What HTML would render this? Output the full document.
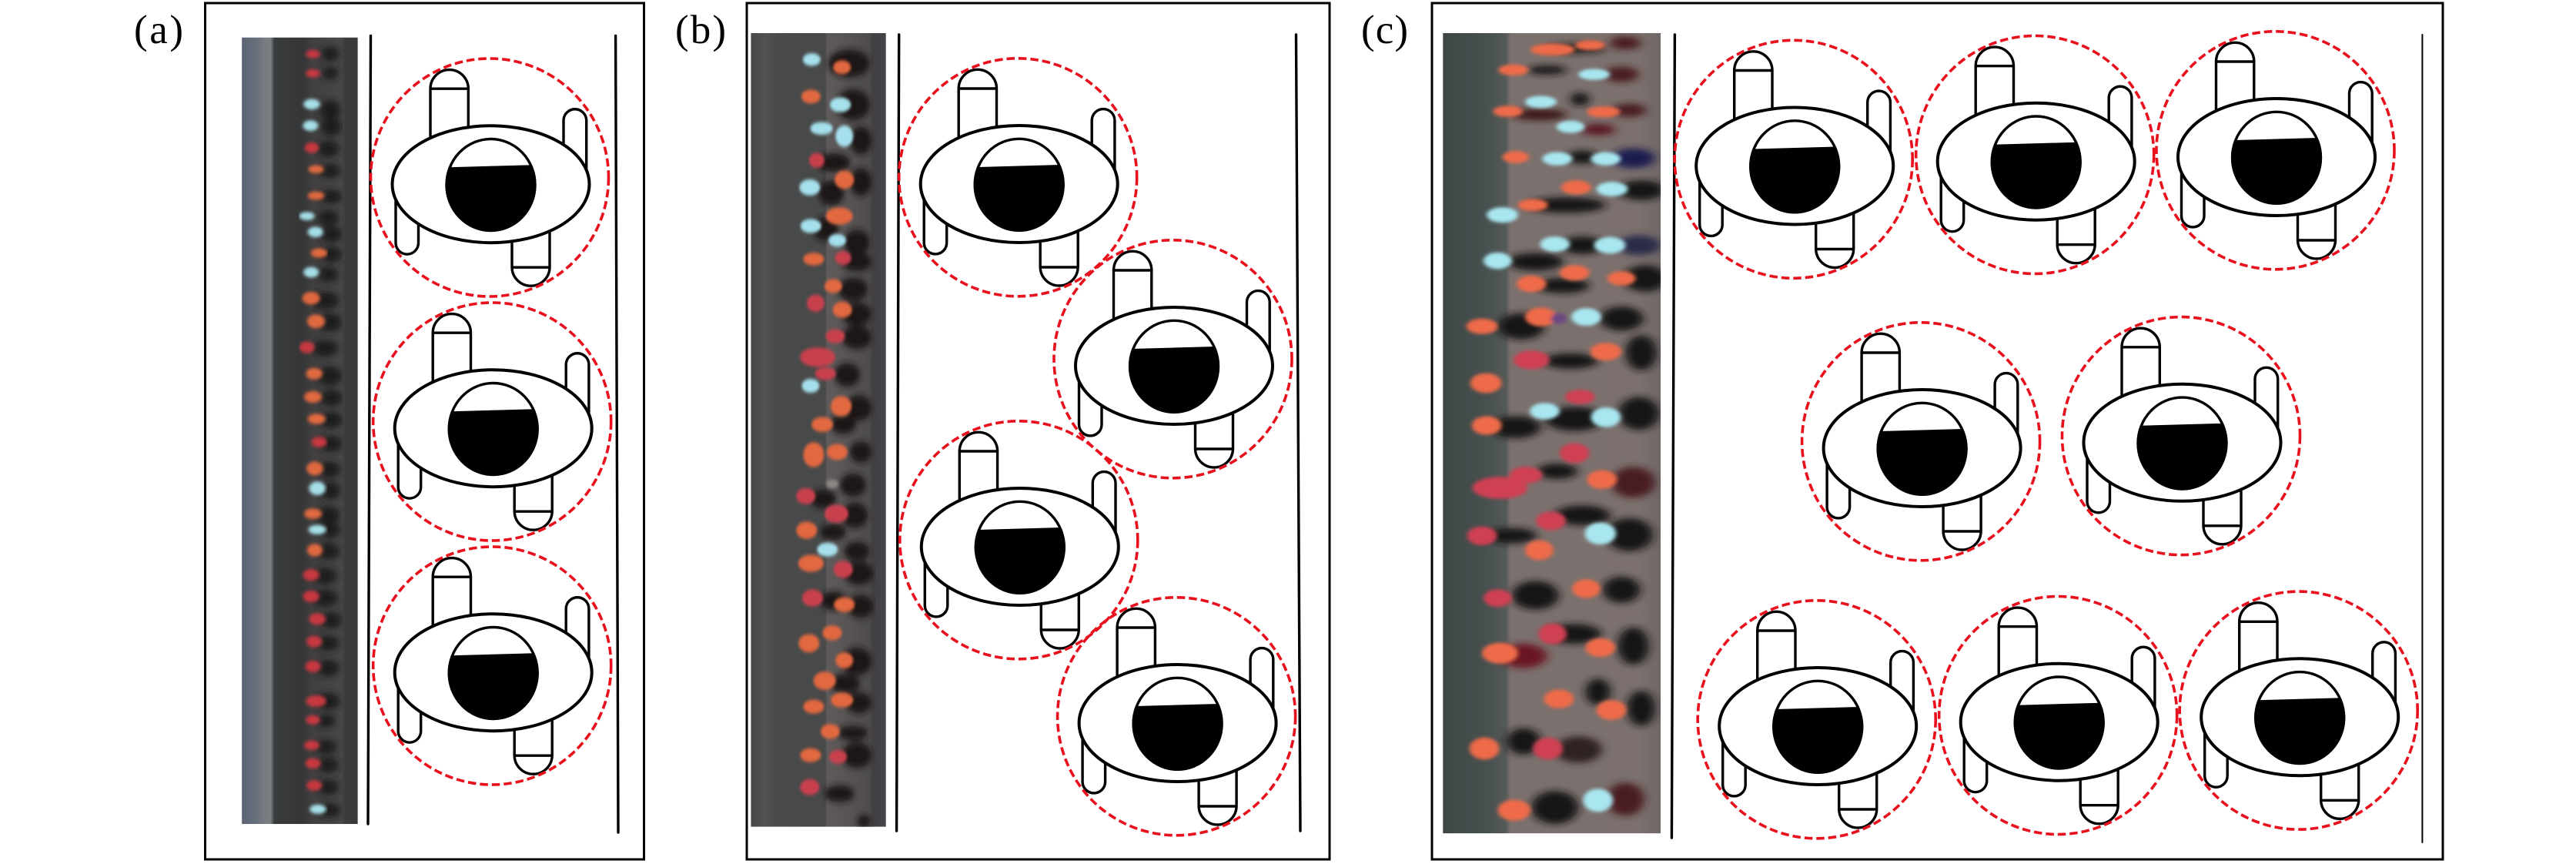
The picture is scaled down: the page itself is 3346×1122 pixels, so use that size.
<!DOCTYPE html>
<html><head><meta charset="utf-8"><style>
html,body{margin:0;padding:0;background:#fff}
svg{display:block}
</style></head><body>
<svg xmlns="http://www.w3.org/2000/svg" width="3346" height="1122" viewBox="0 0 3346 1122">
<defs>
<linearGradient id="ga" x1="0" x2="1" y1="0" y2="0">
<stop offset="0" stop-color="#5c6474"/><stop offset=".12" stop-color="#666d7b"/><stop offset=".19" stop-color="#767b80"/><stop offset=".25" stop-color="#7a7e82"/><stop offset=".28" stop-color="#393c3d"/><stop offset=".52" stop-color="#353637"/><stop offset=".6" stop-color="#403e3f"/><stop offset=".86" stop-color="#4a4748"/><stop offset=".89" stop-color="#3c3a3b"/><stop offset="1" stop-color="#3a383a"/>
</linearGradient>
<linearGradient id="gb" x1="0" x2="1" y1="0" y2="0">
<stop offset="0" stop-color="#48484b"/><stop offset=".1" stop-color="#505152"/><stop offset=".2" stop-color="#494b4c"/><stop offset=".55" stop-color="#484949"/><stop offset=".565" stop-color="#5f5b5b"/><stop offset=".88" stop-color="#4e4b4c"/><stop offset=".9" stop-color="#424044"/><stop offset="1" stop-color="#454347"/>
</linearGradient>
<linearGradient id="gc" x1="0" x2="1" y1="0" y2="0">
<stop offset="0" stop-color="#3f4746"/><stop offset=".2" stop-color="#46504f"/><stop offset=".29" stop-color="#555a58"/><stop offset=".31" stop-color="#7a706d"/><stop offset=".9" stop-color="#7b706d"/><stop offset="1" stop-color="#6f6766"/>
</linearGradient>
<filter id="b1" x="-5%" y="-5%" width="110%" height="110%"><feGaussianBlur stdDeviation="3"/></filter>
<filter id="b2" x="-5%" y="-5%" width="110%" height="110%"><feGaussianBlur stdDeviation="6"/></filter>
<clipPath id="ca"><rect x="394" y="68" width="189" height="1427"/></clipPath>
<clipPath id="cb"><rect x="30" y="60" width="344" height="1440"/></clipPath>
<clipPath id="cc"><rect x="122" y="60" width="278" height="1452"/></clipPath>
<g id="t">
<g fill="#fff" stroke="#000" stroke-width="3.4">
<path d="M-78.5,0V-124A24.6,24.6 0 0 1 -29.2,-124V0Z"/><path d="M-78.5,-124H-29.2"/>
<path d="M94.5,0V-82.6A14.85,14.85 0 0 1 124.2,-82.6V0Z"/>
<path d="M-123.5,0V76.2A14.75,14.75 0 0 0 -94,76.2V0Z"/>
<path d="M27.5,0V107.5A24.5,24.5 0 0 0 76.5,107.5V0Z"/><path d="M27.5,108H76.5"/>
</g>
<ellipse cx="0" cy="0" rx="128" ry="76" fill="#fff" stroke="#000" stroke-width="4"/>
<ellipse cx="0" cy="0.8" rx="57.5" ry="59.5" fill="#fff" stroke="#000" stroke-width="3.4"/>
<path d="M-54.7,-22L53.5,-25A59,61 0 1 1 -54.7,-22Z" fill="#000"/>
<circle cx="-1.5" cy="-8.7" r="154.5" fill="none" stroke="#e8101c" stroke-width="3.6" stroke-dasharray="10.5 5"/>
</g>
</defs>

<!-- panel borders -->
<g fill="none" stroke="#000" stroke-width="3">
<rect x="266.5" y="4" width="570" height="1112"/>
<rect x="970" y="4" width="757" height="1112"/>
<rect x="1860" y="4" width="1313" height="1112"/>
</g>

<!-- photo a -->
<g transform="scale(.79719,.7158)" clip-path="url(#ca)">
<rect x="394" y="68" width="189" height="1427" fill="url(#ga)"/>
<g filter="url(#b2)" fill="#1f1b1d" stroke="#1f1b1d" stroke-width="6">
<ellipse cx="538" cy="98" rx="12" ry="10"/><ellipse cx="538" cy="133" rx="10" ry="9"/><ellipse cx="538" cy="200" rx="14" ry="16"/><ellipse cx="540" cy="230" rx="14" ry="14"/><ellipse cx="535" cy="270" rx="15" ry="12"/><ellipse cx="538" cy="310" rx="14" ry="10"/><ellipse cx="540" cy="357" rx="15" ry="10"/><ellipse cx="535" cy="395" rx="14" ry="11"/><ellipse cx="540" cy="425" rx="15" ry="12"/><ellipse cx="540" cy="462" rx="15" ry="11"/><ellipse cx="535" cy="498" rx="13" ry="11"/><ellipse cx="530" cy="545" rx="20" ry="13"/><ellipse cx="538" cy="585" rx="16" ry="14"/><ellipse cx="530" cy="632" rx="18" ry="12"/><ellipse cx="537" cy="682" rx="18" ry="14"/><ellipse cx="540" cy="722" rx="16" ry="12"/><ellipse cx="540" cy="762" rx="16" ry="12"/><ellipse cx="540" cy="805" rx="15" ry="12"/><ellipse cx="537" cy="852" rx="15" ry="12"/><ellipse cx="538" cy="890" rx="14" ry="13"/><ellipse cx="535" cy="935" rx="16" ry="14"/><ellipse cx="538" cy="962" rx="14" ry="11"/><ellipse cx="535" cy="1000" rx="16" ry="12"/><ellipse cx="530" cy="1045" rx="16" ry="12"/><ellipse cx="530" cy="1085" rx="18" ry="12"/><ellipse cx="540" cy="1125" rx="14" ry="12"/><ellipse cx="535" cy="1167" rx="15" ry="11"/><ellipse cx="535" cy="1212" rx="15" ry="12"/><ellipse cx="535" cy="1272" rx="16" ry="12"/><ellipse cx="532" cy="1308" rx="12" ry="9"/><ellipse cx="532" cy="1355" rx="14" ry="10"/><ellipse cx="535" cy="1388" rx="14" ry="11"/><ellipse cx="535" cy="1428" rx="14" ry="11"/><ellipse cx="538" cy="1470" rx="14" ry="10"/>
</g>
<g filter="url(#b1)" stroke-width="3">
<g fill="#c7383f" stroke="#c7383f"><ellipse cx="510" cy="98" rx="10" ry="6"/><ellipse cx="510" cy="133" rx="10" ry="6"/><ellipse cx="508" cy="268" rx="10" ry="8"/><ellipse cx="500" cy="630" rx="11" ry="9"/><ellipse cx="520" cy="802" rx="11" ry="8"/><ellipse cx="507" cy="1043" rx="12" ry="9"/><ellipse cx="507" cy="1082" rx="12" ry="9"/><ellipse cx="517" cy="1123" rx="12" ry="9"/><ellipse cx="512" cy="1164" rx="11" ry="9"/><ellipse cx="510" cy="1209" rx="11" ry="9"/><ellipse cx="515" cy="1272" rx="15" ry="9"/><ellipse cx="510" cy="1306" rx="10" ry="7"/><ellipse cx="508" cy="1352" rx="11" ry="7"/><ellipse cx="510" cy="1385" rx="11" ry="8"/><ellipse cx="512" cy="1425" rx="11" ry="8"/></g>
<g fill="#e0693f" stroke="#e0693f"><ellipse cx="515" cy="307" rx="11" ry="6"/><ellipse cx="515" cy="355" rx="12" ry="6"/><ellipse cx="520" cy="459" rx="12" ry="7"/><ellipse cx="507" cy="541" rx="13" ry="10"/><ellipse cx="515" cy="583" rx="13" ry="11"/><ellipse cx="512" cy="678" rx="12" ry="9"/><ellipse cx="510" cy="720" rx="13" ry="9"/><ellipse cx="516" cy="760" rx="13" ry="8"/><ellipse cx="513" cy="850" rx="12" ry="11"/><ellipse cx="510" cy="932" rx="13" ry="8"/><ellipse cx="513" cy="998" rx="11" ry="10"/></g>
<g fill="#a5dfe8" stroke="#a5dfe8"><ellipse cx="508" cy="189" rx="12" ry="8"/><ellipse cx="506" cy="228" rx="11" ry="8"/><ellipse cx="500" cy="392" rx="11" ry="6"/><ellipse cx="514" cy="421" rx="11" ry="8"/><ellipse cx="507" cy="494" rx="11" ry="8"/><ellipse cx="517" cy="886" rx="12" ry="11"/><ellipse cx="517" cy="961" rx="13" ry="7"/><ellipse cx="518" cy="1468" rx="12" ry="7"/></g>
</g>
</g>

<!-- photo b -->
<g transform="translate(960,0) scale(.5102,.7158)" clip-path="url(#cb)">
<rect x="30" y="60" width="344" height="1440" fill="url(#gb)"/>
<g filter="url(#b2)" fill="#1b1719" stroke="#1b1719" stroke-width="6">
<ellipse cx="280" cy="115" rx="50" ry="22"/><ellipse cx="290" cy="190" rx="40" ry="25"/><ellipse cx="310" cy="255" rx="25" ry="22"/><ellipse cx="240" cy="295" rx="40" ry="14"/><ellipse cx="310" cy="330" rx="25" ry="22"/><ellipse cx="235" cy="350" rx="30" ry="20"/><ellipse cx="220" cy="415" rx="30" ry="18"/><ellipse cx="300" cy="440" rx="30" ry="20"/><ellipse cx="300" cy="475" rx="35" ry="14"/><ellipse cx="290" cy="525" rx="35" ry="18"/><ellipse cx="300" cy="570" rx="35" ry="18"/><ellipse cx="300" cy="612" rx="35" ry="18"/><ellipse cx="275" cy="680" rx="30" ry="18"/><ellipse cx="305" cy="740" rx="30" ry="20"/><ellipse cx="265" cy="770" rx="30" ry="14"/><ellipse cx="310" cy="820" rx="25" ry="16"/><ellipse cx="290" cy="880" rx="30" ry="18"/><ellipse cx="215" cy="905" rx="30" ry="14"/><ellipse cx="295" cy="935" rx="30" ry="20"/><ellipse cx="240" cy="965" rx="30" ry="12"/><ellipse cx="300" cy="1000" rx="30" ry="14"/><ellipse cx="305" cy="1040" rx="35" ry="18"/><ellipse cx="240" cy="1090" rx="30" ry="14"/><ellipse cx="310" cy="1100" rx="30" ry="18"/><ellipse cx="300" cy="1200" rx="35" ry="22"/><ellipse cx="270" cy="1240" rx="35" ry="14"/><ellipse cx="305" cy="1275" rx="30" ry="16"/><ellipse cx="290" cy="1330" rx="35" ry="10"/><ellipse cx="300" cy="1370" rx="35" ry="20"/><ellipse cx="255" cy="1440" rx="35" ry="12"/><ellipse cx="318" cy="1490" rx="14" ry="8"/>
</g>
<g filter="url(#b1)" stroke-width="5">
<g fill="#c9404d" stroke="#c9404d"><ellipse cx="198" cy="291" rx="17" ry="11"/><ellipse cx="265" cy="468" rx="18" ry="10"/><ellipse cx="195" cy="550" rx="20" ry="13"/><ellipse cx="245" cy="610" rx="22" ry="10"/><ellipse cx="200" cy="648" rx="42" ry="15"/><ellipse cx="220" cy="678" rx="24" ry="9"/><ellipse cx="170" cy="900" rx="22" ry="12"/><ellipse cx="248" cy="932" rx="28" ry="14"/><ellipse cx="265" cy="1033" rx="22" ry="13"/><ellipse cx="187" cy="1085" rx="24" ry="13"/><ellipse cx="252" cy="1373" rx="20" ry="10"/><ellipse cx="180" cy="1428" rx="22" ry="12"/></g>
<g fill="#e2683f" stroke="#e2683f"><ellipse cx="262" cy="122" rx="20" ry="10"/><ellipse cx="183" cy="175" rx="22" ry="10"/><ellipse cx="268" cy="326" rx="22" ry="14"/><ellipse cx="255" cy="392" rx="32" ry="13"/><ellipse cx="190" cy="470" rx="24" ry="9"/><ellipse cx="240" cy="519" rx="20" ry="10"/><ellipse cx="263" cy="562" rx="22" ry="12"/><ellipse cx="260" cy="737" rx="24" ry="16"/><ellipse cx="212" cy="770" rx="25" ry="11"/><ellipse cx="190" cy="825" rx="24" ry="20"/><ellipse cx="250" cy="820" rx="24" ry="12"/><ellipse cx="172" cy="962" rx="24" ry="13"/><ellipse cx="183" cy="1022" rx="30" ry="13"/><ellipse cx="268" cy="1097" rx="24" ry="11"/><ellipse cx="178" cy="1167" rx="24" ry="14"/><ellipse cx="237" cy="1148" rx="22" ry="11"/><ellipse cx="268" cy="1198" rx="20" ry="12"/><ellipse cx="218" cy="1235" rx="26" ry="14"/><ellipse cx="190" cy="1282" rx="24" ry="10"/><ellipse cx="262" cy="1270" rx="26" ry="11"/><ellipse cx="232" cy="1327" rx="22" ry="11"/><ellipse cx="182" cy="1370" rx="24" ry="10"/></g>
<g fill="#a5e0ec" stroke="#a5e0ec"><ellipse cx="185" cy="108" rx="20" ry="9"/><ellipse cx="258" cy="190" rx="24" ry="11"/><ellipse cx="210" cy="233" rx="26" ry="9"/><ellipse cx="268" cy="247" rx="20" ry="17"/><ellipse cx="180" cy="340" rx="24" ry="12"/><ellipse cx="183" cy="410" rx="24" ry="10"/><ellipse cx="250" cy="436" rx="20" ry="9"/><ellipse cx="182" cy="700" rx="20" ry="10"/><ellipse cx="225" cy="997" rx="24" ry="10"/></g>
<ellipse cx="237" cy="878" rx="16" ry="8" fill="#8a8785" stroke="none"/>
</g>
</g>

<!-- photo c -->
<g transform="translate(1750,0) scale(1.01781,.7158)" clip-path="url(#cc)">
<rect x="122" y="60" width="278" height="1452" fill="url(#gc)"/>
<g filter="url(#b2)" fill="#181316">
<ellipse cx="290" cy="88" rx="40" ry="8"/><ellipse cx="355" cy="78" rx="20" ry="12" fill="#4a1a22"/><ellipse cx="255" cy="127" rx="25" ry="8"/><ellipse cx="350" cy="135" rx="22" ry="14" fill="#4a1a22"/><ellipse cx="297" cy="180" rx="12" ry="12"/><ellipse cx="245" cy="208" rx="35" ry="10" fill="#3a1218"/><ellipse cx="360" cy="200" rx="22" ry="12" fill="#4a1a22"/><ellipse cx="320" cy="235" rx="22" ry="10" fill="#5a1420"/><ellipse cx="300" cy="285" rx="20" ry="12"/><ellipse cx="365" cy="287" rx="28" ry="18" fill="#1d1f50"/><ellipse cx="375" cy="345" rx="30" ry="18"/><ellipse cx="280" cy="372" rx="50" ry="14"/><ellipse cx="300" cy="445" rx="28" ry="16"/><ellipse cx="372" cy="445" rx="28" ry="18" fill="#2a2c48"/><ellipse cx="240" cy="475" rx="36" ry="16"/><ellipse cx="275" cy="518" rx="34" ry="14"/><ellipse cx="380" cy="505" rx="28" ry="24"/><ellipse cx="222" cy="592" rx="30" ry="24"/><ellipse cx="350" cy="578" rx="28" ry="22"/><ellipse cx="285" cy="655" rx="35" ry="14"/><ellipse cx="375" cy="640" rx="20" ry="32"/><ellipse cx="215" cy="775" rx="32" ry="20"/><ellipse cx="290" cy="760" rx="38" ry="22"/><ellipse cx="372" cy="750" rx="26" ry="30"/><ellipse cx="268" cy="855" rx="26" ry="14"/><ellipse cx="365" cy="875" rx="28" ry="28" fill="#4a1a22"/><ellipse cx="210" cy="972" rx="32" ry="14"/><ellipse cx="300" cy="935" rx="36" ry="18"/><ellipse cx="360" cy="970" rx="30" ry="30"/><ellipse cx="240" cy="1080" rx="30" ry="26"/><ellipse cx="350" cy="1070" rx="24" ry="24"/><ellipse cx="290" cy="1150" rx="34" ry="18"/><ellipse cx="225" cy="1190" rx="30" ry="22" fill="#6a1822"/><ellipse cx="365" cy="1172" rx="20" ry="34"/><ellipse cx="320" cy="1255" rx="16" ry="24"/><ellipse cx="375" cy="1285" rx="18" ry="32"/><ellipse cx="225" cy="1345" rx="22" ry="24"/><ellipse cx="295" cy="1360" rx="30" ry="24" fill="#2e2220"/><ellipse cx="265" cy="1465" rx="30" ry="30"/><ellipse cx="355" cy="1450" rx="24" ry="30" fill="#4a1a22"/>
</g>
<g filter="url(#b1)" stroke-width="6">
<g fill="#cf3f52" stroke="#cf3f52"><ellipse cx="235" cy="653" rx="20" ry="14"/><ellipse cx="297" cy="720" rx="16" ry="10"/><ellipse cx="290" cy="822" rx="16" ry="15"/><ellipse cx="228" cy="862" rx="18" ry="12"/><ellipse cx="195" cy="885" rx="32" ry="17"/><ellipse cx="260" cy="945" rx="16" ry="14"/><ellipse cx="172" cy="972" rx="16" ry="14"/><ellipse cx="192" cy="1085" rx="15" ry="13"/><ellipse cx="262" cy="1150" rx="15" ry="16"/><ellipse cx="256" cy="1358" rx="16" ry="17"/></g>
<g fill="#ee6b49" stroke="#ee6b49"><ellipse cx="262" cy="90" rx="25" ry="8"/><ellipse cx="310" cy="82" rx="16" ry="6"/><ellipse cx="212" cy="127" rx="16" ry="7"/><ellipse cx="205" cy="202" rx="16" ry="7"/><ellipse cx="327" cy="203" rx="18" ry="7"/><ellipse cx="215" cy="285" rx="14" ry="8"/><ellipse cx="292" cy="340" rx="16" ry="10"/><ellipse cx="237" cy="372" rx="16" ry="8"/><ellipse cx="290" cy="495" rx="16" ry="11"/><ellipse cx="350" cy="505" rx="15" ry="10"/><ellipse cx="235" cy="515" rx="16" ry="12"/><ellipse cx="172" cy="592" rx="17" ry="11"/><ellipse cx="247" cy="575" rx="17" ry="14"/><ellipse cx="330" cy="638" rx="17" ry="13"/><ellipse cx="177" cy="695" rx="17" ry="15"/><ellipse cx="178" cy="772" rx="16" ry="14"/><ellipse cx="325" cy="870" rx="16" ry="14"/><ellipse cx="245" cy="998" rx="15" ry="15"/><ellipse cx="305" cy="1068" rx="15" ry="14"/><ellipse cx="195" cy="1185" rx="20" ry="16"/><ellipse cx="323" cy="1175" rx="16" ry="14"/><ellipse cx="270" cy="1268" rx="16" ry="14"/><ellipse cx="337" cy="1288" rx="16" ry="15"/><ellipse cx="175" cy="1358" rx="16" ry="17"/><ellipse cx="213" cy="1470" rx="18" ry="16"/></g>
<g fill="#a8e6f0" stroke="#a8e6f0"><ellipse cx="315" cy="135" rx="17" ry="7"/><ellipse cx="247" cy="185" rx="17" ry="8"/><ellipse cx="285" cy="230" rx="15" ry="8"/><ellipse cx="268" cy="288" rx="16" ry="9"/><ellipse cx="330" cy="288" rx="16" ry="9"/><ellipse cx="338" cy="343" rx="17" ry="10"/><ellipse cx="198" cy="390" rx="17" ry="11"/><ellipse cx="265" cy="443" rx="16" ry="11"/><ellipse cx="335" cy="445" rx="17" ry="12"/><ellipse cx="192" cy="473" rx="15" ry="12"/><ellipse cx="305" cy="575" rx="16" ry="13"/><ellipse cx="252" cy="746" rx="16" ry="12"/><ellipse cx="330" cy="757" rx="16" ry="15"/><ellipse cx="323" cy="968" rx="17" ry="17"/><ellipse cx="320" cy="1452" rx="16" ry="18"/></g>
<ellipse cx="270" cy="578" rx="10" ry="10" fill="#6a4a80" stroke="none"/>
</g>
</g>

<!-- walls -->
<g stroke="#000" stroke-width="3.4" stroke-linecap="round" fill="none">
<path d="M481.5,46.5L478,1070"/>
<path d="M799.6,46.5L803,1081"/>
<path d="M1167.7,45L1164.6,1079"/>
<path d="M1683.5,45L1689,1079"/>
<path d="M2175.4,45L2171.4,1088"/>
<path d="M3146.4,45V1094" stroke-width="2"/>
</g>

<!-- tables a -->
<use href="#t" x="637.5" y="239.2"/>
<use href="#t" x="640.7" y="556.2"/>
<use href="#t" x="640.7" y="873.2"/>
<!-- tables b -->
<use href="#t" x="1323.7" y="239"/>
<use href="#t" x="1525" y="475"/>
<use href="#t" x="1324.8" y="710"/>
<use href="#t" x="1529.6" y="939"/>
<!-- tables c -->
<use href="#t" x="2331.2" y="215.5"/>
<use href="#t" x="2644.7" y="209.7"/>
<use href="#t" x="2957" y="204"/>
<use href="#t" x="2496.6" y="582"/>
<use href="#t" x="2834.5" y="574.8"/>
<use href="#t" x="2361.2" y="943"/>
<use href="#t" x="2674.7" y="937.7"/>
<use href="#t" x="2987.2" y="931.3"/>

<!-- labels -->
<g font-family="'Liberation Serif',serif" font-size="53" fill="#000">
<text x="174" y="56" textLength="64" lengthAdjust="spacing">(a)</text>
<text x="877" y="56" textLength="66" lengthAdjust="spacing">(b)</text>
<text x="1768" y="56" textLength="61" lengthAdjust="spacing">(c)</text>
</g>
</svg>
</body></html>
